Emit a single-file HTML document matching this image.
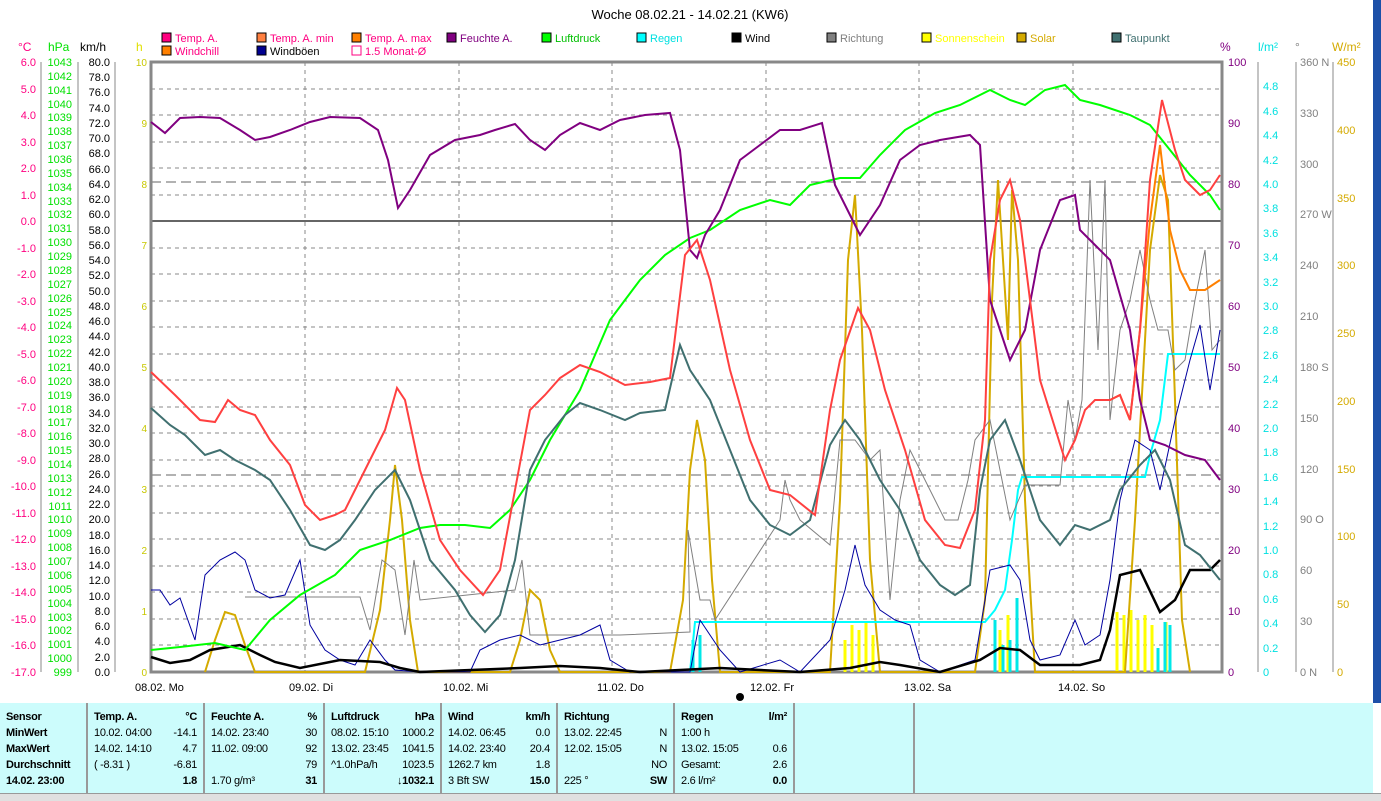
<!DOCTYPE html><html><head><meta charset="utf-8"><style>
body{margin:0;width:1381px;height:800px;background:#fff;overflow:hidden;position:relative;font-family:"Liberation Sans",sans-serif}
svg{position:absolute;left:0;top:0}
.tb{position:absolute;left:0;top:703px;width:1373px;height:90px;background:#ccfcfc;font-family:"Liberation Sans Narrow","Liberation Sans",sans-serif;font-size:11px;letter-spacing:-0.3px}
.col{position:absolute;top:0;height:90px;border-right:2px solid #999}
.r{position:absolute;left:6px;right:6px;height:16px;line-height:16px}
.r span{position:absolute;right:0}
.b{font-weight:bold}
</style></head><body>
<svg width="1381" height="800" font-family="Liberation Sans, sans-serif" font-size="12">
<rect x="1373" y="0" width="8" height="703" fill="#1c50a8"/>
<text x="690" y="19" text-anchor="middle" font-size="13">Woche 08.02.21 - 14.02.21 (KW6)</text>
<g font-size="11">
<rect x="162" y="33" width="9" height="9" fill="#ff0080" stroke="#000"/><text x="175" y="42" fill="#ff0080">Temp. A.</text>
<rect x="257" y="33" width="9" height="9" fill="#ff8040" stroke="#000"/><text x="270" y="42" fill="#ff0080">Temp. A. min</text>
<rect x="352" y="33" width="9" height="9" fill="#ff8000" stroke="#000"/><text x="365" y="42" fill="#ff0080">Temp. A. max</text>
<rect x="447" y="33" width="9" height="9" fill="#800080" stroke="#000"/><text x="460" y="42" fill="#800080">Feuchte A.</text>
<rect x="542" y="33" width="9" height="9" fill="#00ff00" stroke="#000"/><text x="555" y="42" fill="#00c000">Luftdruck</text>
<rect x="637" y="33" width="9" height="9" fill="#00ffff" stroke="#000"/><text x="650" y="42" fill="#00e0e0">Regen</text>
<rect x="732" y="33" width="9" height="9" fill="#000" stroke="#000"/><text x="745" y="42">Wind</text>
<rect x="827" y="33" width="9" height="9" fill="#808080" stroke="#000"/><text x="840" y="42" fill="#808080">Richtung</text>
<rect x="922" y="33" width="9" height="9" fill="#ffff00" stroke="#000"/><text x="935" y="42" fill="#ffff00">Sonnenschein</text>
<rect x="1017" y="33" width="9" height="9" fill="#d4aa00" stroke="#000"/><text x="1030" y="42" fill="#d4aa00">Solar</text>
<rect x="1112" y="33" width="9" height="9" fill="#407070" stroke="#000"/><text x="1125" y="42" fill="#407070">Taupunkt</text>
<rect x="162" y="46" width="9" height="9" fill="#ff8000" stroke="#000"/><text x="175" y="55" fill="#ff0080">Windchill</text>
<rect x="257" y="46" width="9" height="9" fill="#000090" stroke="#000"/><text x="270" y="55">Windböen</text>
<rect x="352" y="46" width="9" height="9" fill="none" stroke="#ff0080"/><text x="365" y="55" fill="#ff0080">1.5 Monat-Ø</text>
</g>
<text x="18" y="51" fill="#ff0080">°C</text><text x="48" y="51" fill="#00e000">hPa</text><text x="80" y="51">km/h</text><text x="136" y="51" fill="#e0e000">h</text>
<text x="1220" y="51" fill="#800080">%</text><text x="1258" y="51" fill="#00e0e0">l/m²</text><text x="1295" y="51" fill="#808080">°</text><text x="1332" y="51" fill="#d4aa00">W/m²</text>
<g stroke="#888" stroke-dasharray="4,4" stroke-width="1">
<path d="M151 89H1222M151 115H1222M151 142H1222M151 168H1222M151 195H1222M151 248H1222M151 274H1222M151 301H1222M151 327H1222M151 354H1222M151 380H1222M151 407H1222M151 433H1222M151 460H1222M151 486H1222M151 513H1222M151 539H1222M151 566H1222M151 592H1222M151 619H1222M151 645H1222"/>
<path d="M305 62V672M459 62V672M612 62V672M766 62V672M919 62V672M1073 62V672"/>
</g>
<path d="M151 182H1222M151 475H1222" stroke="#666" stroke-dasharray="10,5"/>
<path d="M151 221H1222" stroke="#666" stroke-width="2"/>
<rect x="151" y="62" width="1071" height="610" fill="none" stroke="#888" stroke-width="3"/>
<g stroke="#888"><path d="M41 62V672M78 62V672M115 62V672M1258 62V672M1296 62V672M1333 62V672"/></g>
<g fill="#ff0080" text-anchor="end" font-size="11">
<text x="36" y="66">6.0</text><text x="36" y="93">5.0</text><text x="36" y="119">4.0</text><text x="36" y="146">3.0</text><text x="36" y="172">2.0</text><text x="36" y="199">1.0</text><text x="36" y="225">0.0</text><text x="36" y="252">-1.0</text><text x="36" y="278">-2.0</text><text x="36" y="305">-3.0</text><text x="36" y="331">-4.0</text><text x="36" y="358">-5.0</text><text x="36" y="384">-6.0</text><text x="36" y="411">-7.0</text><text x="36" y="437">-8.0</text><text x="36" y="464">-9.0</text><text x="36" y="490">-10.0</text><text x="36" y="517">-11.0</text><text x="36" y="543">-12.0</text><text x="36" y="570">-13.0</text><text x="36" y="596">-14.0</text><text x="36" y="623">-15.0</text><text x="36" y="649">-16.0</text><text x="36" y="676">-17.0</text>
</g>
<g fill="#00e000" text-anchor="end" font-size="11">
<text x="72" y="66">1043</text><text x="72" y="80">1042</text><text x="72" y="94">1041</text><text x="72" y="108">1040</text><text x="72" y="121">1039</text><text x="72" y="135">1038</text><text x="72" y="149">1037</text><text x="72" y="163">1036</text><text x="72" y="177">1035</text><text x="72" y="191">1034</text><text x="72" y="205">1033</text><text x="72" y="218">1032</text><text x="72" y="232">1031</text><text x="72" y="246">1030</text><text x="72" y="260">1029</text><text x="72" y="274">1028</text><text x="72" y="288">1027</text><text x="72" y="302">1026</text><text x="72" y="316">1025</text><text x="72" y="329">1024</text><text x="72" y="343">1023</text><text x="72" y="357">1022</text><text x="72" y="371">1021</text><text x="72" y="385">1020</text><text x="72" y="399">1019</text><text x="72" y="413">1018</text><text x="72" y="426">1017</text><text x="72" y="440">1016</text><text x="72" y="454">1015</text><text x="72" y="468">1014</text><text x="72" y="482">1013</text><text x="72" y="496">1012</text><text x="72" y="510">1011</text><text x="72" y="523">1010</text><text x="72" y="537">1009</text><text x="72" y="551">1008</text><text x="72" y="565">1007</text><text x="72" y="579">1006</text><text x="72" y="593">1005</text><text x="72" y="607">1004</text><text x="72" y="621">1003</text><text x="72" y="634">1002</text><text x="72" y="648">1001</text><text x="72" y="662">1000</text><text x="72" y="676">999</text>
</g>
<g text-anchor="end" font-size="11">
<text x="110" y="66">80.0</text><text x="110" y="81">78.0</text><text x="110" y="96">76.0</text><text x="110" y="112">74.0</text><text x="110" y="127">72.0</text><text x="110" y="142">70.0</text><text x="110" y="157">68.0</text><text x="110" y="173">66.0</text><text x="110" y="188">64.0</text><text x="110" y="203">62.0</text><text x="110" y="218">60.0</text><text x="110" y="234">58.0</text><text x="110" y="249">56.0</text><text x="110" y="264">54.0</text><text x="110" y="279">52.0</text><text x="110" y="295">50.0</text><text x="110" y="310">48.0</text><text x="110" y="325">46.0</text><text x="110" y="340">44.0</text><text x="110" y="356">42.0</text><text x="110" y="371">40.0</text><text x="110" y="386">38.0</text><text x="110" y="401">36.0</text><text x="110" y="417">34.0</text><text x="110" y="432">32.0</text><text x="110" y="447">30.0</text><text x="110" y="462">28.0</text><text x="110" y="478">26.0</text><text x="110" y="493">24.0</text><text x="110" y="508">22.0</text><text x="110" y="523">20.0</text><text x="110" y="539">18.0</text><text x="110" y="554">16.0</text><text x="110" y="569">14.0</text><text x="110" y="584">12.0</text><text x="110" y="600">10.0</text><text x="110" y="615">8.0</text><text x="110" y="630">6.0</text><text x="110" y="645">4.0</text><text x="110" y="661">2.0</text><text x="110" y="676">0.0</text>
</g>
<g text-anchor="end" font-size="10" fill="#c8c800">
<text x="147" y="66">10</text><text x="147" y="127">9</text><text x="147" y="188">8</text><text x="147" y="249">7</text><text x="147" y="310">6</text><text x="147" y="371">5</text><text x="147" y="432">4</text><text x="147" y="493">3</text><text x="147" y="554">2</text><text x="147" y="615">1</text><text x="147" y="676">0</text>
</g>
<g fill="#800080" font-size="11">
<text x="1228" y="66">100</text><text x="1228" y="127">90</text><text x="1228" y="188">80</text><text x="1228" y="249">70</text><text x="1228" y="310">60</text><text x="1228" y="371">50</text><text x="1228" y="432">40</text><text x="1228" y="493">30</text><text x="1228" y="554">20</text><text x="1228" y="615">10</text><text x="1228" y="676">0</text>
</g>
<g fill="#00e0e0" font-size="11">
<text x="1263" y="90">4.8</text><text x="1263" y="115">4.6</text><text x="1263" y="139">4.4</text><text x="1263" y="164">4.2</text><text x="1263" y="188">4.0</text><text x="1263" y="212">3.8</text><text x="1263" y="237">3.6</text><text x="1263" y="261">3.4</text><text x="1263" y="286">3.2</text><text x="1263" y="310">3.0</text><text x="1263" y="334">2.8</text><text x="1263" y="359">2.6</text><text x="1263" y="383">2.4</text><text x="1263" y="408">2.2</text><text x="1263" y="432">2.0</text><text x="1263" y="456">1.8</text><text x="1263" y="481">1.6</text><text x="1263" y="505">1.4</text><text x="1263" y="530">1.2</text><text x="1263" y="554">1.0</text><text x="1263" y="578">0.8</text><text x="1263" y="603">0.6</text><text x="1263" y="627">0.4</text><text x="1263" y="652">0.2</text><text x="1263" y="676">0</text>
</g>
<g fill="#808080" font-size="11">
<text x="1300" y="66">360 N</text><text x="1300" y="117">330</text><text x="1300" y="168">300</text><text x="1300" y="218">270 W</text><text x="1300" y="269">240</text><text x="1300" y="320">210</text><text x="1300" y="371">180 S</text><text x="1300" y="422">150</text><text x="1300" y="473">120</text><text x="1300" y="523">90 O</text><text x="1300" y="574">60</text><text x="1300" y="625">30</text><text x="1300" y="676">0 N</text>
</g>
<g fill="#d4aa00" font-size="11">
<text x="1337" y="66">450</text><text x="1337" y="134">400</text><text x="1337" y="202">350</text><text x="1337" y="269">300</text><text x="1337" y="337">250</text><text x="1337" y="405">200</text><text x="1337" y="473">150</text><text x="1337" y="540">100</text><text x="1337" y="608">50</text><text x="1337" y="676">0</text>
</g>
<g font-size="11">
<text x="135" y="691">08.02. Mo</text><text x="289" y="691">09.02. Di</text><text x="443" y="691">10.02. Mi</text><text x="597" y="691">11.02. Do</text><text x="750" y="691">12.02. Fr</text><text x="904" y="691">13.02. Sa</text><text x="1058" y="691">14.02. So</text>
</g>
<circle cx="740" cy="697" r="4" fill="#000"/>
<g stroke="#ffff00" stroke-width="3">
<path d="M845 672V640M852 672V625M859 672V630M866 672V622M873 672V635M1000 672V630M1008 672V615M1117 672V612M1124 672V615M1131 672V610M1138 672V620M1145 672V615M1152 672V625M1166 672V622"/>
</g>
<g stroke="#00e8e8" stroke-width="3">
<path d="M693 672V640M700 672V635M995 672V620M1003 672V645M1010 672V640M1017 672V598M1158 672V648M1165 672V622M1170 672V625"/>
</g>
<polyline fill="none" stroke="#d4aa00" stroke-width="2" points="205,672 215,640 225,612 235,615 245,645 255,672 365,672 380,610 390,520 395,465 402,520 410,620 418,672 510,672 520,640 530,590 540,600 550,650 560,672 670,672 683,600 690,470 697,420 705,460 712,580 720,672 830,672 840,500 848,260 855,195 862,330 870,560 880,672 975,672 985,600 992,300 998,180 1003,260 1008,340 1012,190 1018,260 1025,500 1035,672 1125,672 1135,520 1150,250 1160,175 1168,200 1175,400 1182,620 1190,672"/>
<polyline fill="none" stroke="#00ffff" stroke-width="2" points="690,672 695,622 985,622 995,610 1005,590 1012,540 1018,490 1022,477 1145,477 1150,455 1160,420 1168,354 1220,354"/>
<polyline fill="none" stroke="#808080" stroke-width="1" points="245,597 300,597 335,597 360,597 370,630 382,560 395,570 405,635 414,560 420,600 515,590 522,560 530,635 620,635 690,632 688,530 700,600 710,600 715,620 780,520 785,480 790,500 800,520 830,545 840,440 855,440 870,460 880,450 890,600 900,500 910,450 920,470 935,500 945,520 958,520 968,480 975,440 990,420 1000,470 1010,520 1025,485 1040,485 1060,485 1068,400 1075,440 1082,400 1090,180 1098,350 1105,180 1110,420 1120,330 1130,300 1140,250 1150,300 1158,330 1168,330 1175,370 1185,360 1195,300 1205,250 1212,350 1220,340"/>
<polyline fill="none" stroke="#0000a0" stroke-width="1" points="151,590 160,590 170,605 180,598 195,640 205,575 220,560 235,552 245,560 255,590 270,598 285,595 300,560 310,625 325,650 340,660 355,665 370,640 385,660 395,670 420,672 470,672 480,650 500,640 520,635 540,645 560,640 580,635 600,625 610,660 630,672 690,672 700,620 720,650 740,672 780,660 800,672 830,640 845,590 855,545 865,585 880,610 895,620 910,625 920,660 940,672 975,660 990,570 1010,565 1020,580 1030,640 1040,660 1060,655 1075,620 1085,645 1100,635 1110,580 1120,500 1135,440 1150,450 1160,490 1175,420 1190,360 1200,325 1210,390 1220,330"/>
<polyline fill="none" stroke="#000" stroke-width="2.5" points="151,657 170,663 190,660 210,650 240,645 260,655 275,662 300,668 340,660 380,662 400,668 420,672 520,668 560,666 600,668 640,672 720,668 800,672 850,668 880,662 900,665 940,672 980,660 1000,648 1020,650 1040,665 1080,665 1100,660 1110,630 1120,575 1140,570 1160,612 1175,600 1190,570 1210,570 1220,560"/>
<polyline fill="none" stroke="#00ff00" stroke-width="2" points="151,650 180,647 215,643 245,650 270,620 300,595 335,575 360,550 390,540 420,528 440,525 465,525 490,528 510,510 530,480 550,440 580,390 610,320 640,280 665,255 690,238 710,230 740,210 770,200 790,205 810,185 840,178 860,178 880,155 905,130 935,113 960,105 990,90 1010,100 1025,105 1045,90 1065,85 1080,100 1100,105 1130,115 1150,125 1170,150 1190,175 1210,195 1220,210"/>
<polyline fill="none" stroke="#407070" stroke-width="2" points="151,408 170,425 185,435 205,455 220,450 235,460 255,470 270,480 290,510 310,545 325,550 340,540 355,520 375,490 395,470 410,500 430,560 455,590 470,615 485,632 500,615 515,560 530,470 545,440 565,415 580,403 600,410 625,420 640,413 665,410 680,345 690,370 710,400 730,450 750,500 770,525 790,535 810,520 830,445 845,420 860,440 880,480 900,510 920,560 940,585 955,595 970,585 980,490 990,440 1005,420 1020,460 1040,520 1060,545 1075,525 1090,530 1110,520 1120,490 1140,465 1155,450 1170,480 1185,545 1200,555 1220,580"/>
<polyline fill="none" stroke="#800080" stroke-width="2" points="151,122 165,133 180,118 200,117 220,118 240,130 255,140 270,137 290,130 310,122 330,117 360,118 378,130 388,160 398,208 410,190 430,155 455,140 480,135 495,130 515,124 530,140 545,150 560,135 580,123 600,130 620,120 645,115 670,113 680,150 690,250 697,258 705,235 720,210 740,160 760,145 780,130 800,130 822,123 835,185 860,235 880,205 900,160 920,145 940,140 970,135 980,145 990,300 1010,360 1025,330 1040,250 1060,200 1075,195 1080,230 1095,245 1110,260 1130,330 1140,400 1150,440 1165,445 1185,455 1205,460 1220,480"/>
<polyline fill="none" stroke="#ff8000" stroke-width="2" points="1110,400 1120,395 1130,420 1140,330 1150,220 1160,145 1170,230 1180,270 1190,290 1205,290 1220,280"/>
<polyline fill="none" stroke="#ff4040" stroke-width="2" points="151,372 175,395 200,420 215,422 228,400 240,410 255,415 270,440 290,465 305,505 320,520 335,515 345,510 355,490 370,460 385,430 397,388 405,400 420,470 440,540 460,570 483,595 500,570 515,490 530,410 545,395 560,378 580,365 600,372 625,385 650,382 670,378 685,255 697,240 710,280 730,370 750,440 770,490 790,495 815,515 830,410 840,360 858,308 870,330 885,390 905,450 925,520 945,545 960,548 975,510 985,420 990,260 1000,200 1010,180 1020,220 1040,380 1065,460 1075,440 1085,410 1095,400 1110,400 1120,395 1130,420 1140,330 1150,180 1162,100 1175,150 1185,180 1200,195 1210,190 1220,175"/>
</svg>
<div class="tb">
<div class="col" style="left:0;width:86px"><div class="r b" style="top:6px">Sensor</div><div class="r b" style="top:22px">MinWert</div><div class="r b" style="top:38px">MaxWert</div><div class="r b" style="top:54px">Durchschnitt</div><div class="r b" style="top:70px">14.02. 23:00</div></div>
<div class="col" style="left:88px;width:115px"><div class="r b" style="top:6px">Temp. A.<span>°C</span></div><div class="r" style="top:22px">10.02. 04:00<span>-14.1</span></div><div class="r" style="top:38px">14.02. 14:10<span>4.7</span></div><div class="r" style="top:54px">( -8.31 )<span>-6.81</span></div><div class="r b" style="top:70px"><span>1.8</span></div></div>
<div class="col" style="left:205px;width:118px"><div class="r b" style="top:6px">Feuchte A.<span>%</span></div><div class="r" style="top:22px">14.02. 23:40<span>30</span></div><div class="r" style="top:38px">11.02. 09:00<span>92</span></div><div class="r" style="top:54px"><span>79</span></div><div class="r" style="top:70px">1.70 g/m³<span class="b">31</span></div></div>
<div class="col" style="left:325px;width:115px"><div class="r b" style="top:6px">Luftdruck<span>hPa</span></div><div class="r" style="top:22px">08.02. 15:10<span>1000.2</span></div><div class="r" style="top:38px">13.02. 23:45<span>1041.5</span></div><div class="r" style="top:54px">^1.0hPa/h<span>1023.5</span></div><div class="r b" style="top:70px"><span>↓1032.1</span></div></div>
<div class="col" style="left:442px;width:114px"><div class="r b" style="top:6px">Wind<span>km/h</span></div><div class="r" style="top:22px">14.02. 06:45<span>0.0</span></div><div class="r" style="top:38px">14.02. 23:40<span>20.4</span></div><div class="r" style="top:54px">1262.7 km<span>1.8</span></div><div class="r" style="top:70px">3 Bft SW<span class="b">15.0</span></div></div>
<div class="col" style="left:558px;width:115px"><div class="r b" style="top:6px">Richtung</div><div class="r" style="top:22px">13.02. 22:45<span>N</span></div><div class="r" style="top:38px">12.02. 15:05<span>N</span></div><div class="r" style="top:54px"><span>NO</span></div><div class="r" style="top:70px">225 °<span class="b">SW</span></div></div>
<div class="col" style="left:675px;width:118px"><div class="r b" style="top:6px">Regen<span>l/m²</span></div><div class="r" style="top:22px">1:00 h</div><div class="r" style="top:38px">13.02. 15:05<span>0.6</span></div><div class="r" style="top:54px">Gesamt:<span>2.6</span></div><div class="r" style="top:70px">2.6 l/m²<span class="b">0.0</span></div></div>
<div class="col" style="left:795px;width:118px"></div>
</div>
<div style="position:absolute;left:0;top:793px;width:1381px;height:7px;background:#e0e0e0;border-top:1px solid #999"></div>
</body></html>
